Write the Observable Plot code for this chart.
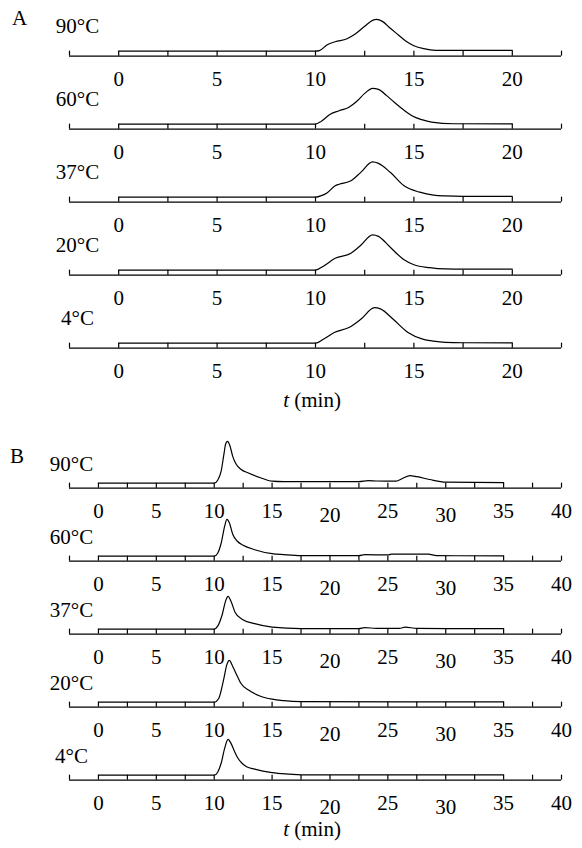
<!DOCTYPE html>
<html>
<head>
<meta charset="utf-8">
<script src="https://cdn.jsdelivr.net/npm/d3@7"></script>
<script src="https://cdn.jsdelivr.net/npm/@observablehq/plot@0.6"></script>
<style>
html,body{margin:0;padding:0;background:#fff;}
#wrap{position:relative;width:582px;height:848px;overflow:hidden;font-family:"Liberation Serif","Times New Roman",serif;color:#000;background:#fff;}
.lbl{position:absolute;font-size:21px;line-height:1;white-space:nowrap;font-family:"Liberation Serif","Times New Roman",serif;}
.xl{transform:translateX(-50%);}
#panelA,#panelB{position:absolute;left:0;}
svg text{font-family:"Liberation Serif","Times New Roman",serif !important;}
</style>
</head>
<body>
<div id="wrap">
  <div id="panelA" style="top:0px"></div>
  <div id="panelB" style="top:432px"></div>
  <div class="lbl" style="left:12px;top:8px">A</div>
  <div class="lbl" style="left:10px;top:446px">B</div>
  <div class="lbl xl" style="left:312px;top:390px"><i>t</i> (min)</div>
  <div class="lbl xl" style="left:312px;top:819px"><i>t</i> (min)</div>
</div>
<script>
// ---- categories ----
const temps = ["90°C", "60°C", "37°C", "20°C", "4°C"];

// ---- axis ticks / labels ----
const ticksA = [-2.5, 0, 2.5, 5, 7.5, 10, 12.5, 15, 17.5, 20, 22.5];
const labelsA = [0, 5, 10, 15, 20];
const ticksB = [-2.5, 0, 2.5, 5, 7.5, 10, 12.5, 15, 17.5, 20, 22.5, 25, 27.5, 30, 32.5, 35, 37.5, 40];
const labelsB = [0, 5, 10, 15, 25, 35, 40];
const labelsBLow = [20, 30];

// ---- panel A series (time, min / relative absorbance) ----
const A90_t = [0, 10, 10.2, 10.6, 11.0, 11.6, 12.0, 12.5, 12.9, 13.1, 13.4, 13.8, 14.2, 14.6, 15.0, 15.5, 16.1, 17, 20];
const A90_v = [0, 0, 0.5, 6.5, 9.5, 12.5, 17, 25, 31, 32, 30, 23, 16.5, 10, 5.5, 2.5, 0.8, 0.7, 0.7];
const A60_t = [0, 10, 10.3, 10.75, 11.2, 11.7, 12.1, 12.5, 12.9, 13.2, 13.6, 14.0, 14.5, 14.9, 15.4, 15.9, 17, 20];
const A60_v = [0, 0, 3, 10, 13.5, 17, 23, 31, 36, 35, 29, 22, 14, 8.5, 4.5, 2, 0.4, 0.3];
const A37_t = [0, 10, 10.3, 10.6, 11.0, 11.2, 11.8, 12.3, 12.9, 13.2, 13.8, 14.5, 15.3, 16.0, 16.6, 17.5, 20];
const A37_v = [0, 0, 1.5, 4.5, 11.5, 13, 16.5, 25, 35.5, 34, 25, 11.5, 5, 2, 1.2, 0.8, 0.8];
const A20_t = [0, 10, 10.4, 11.0, 11.8, 12.3, 12.9, 13.2, 13.8, 14.5, 15.0, 15.8, 16.6, 17.5, 20];
const A20_v = [0, 0, 4, 12, 17, 25, 35.5, 34, 23, 10.5, 5.5, 2.5, 1.2, 1, 1];
const A4_t  = [0, 10, 10.4, 10.95, 11.7, 12.3, 13.0, 13.3, 13.95, 14.7, 15.45, 16.0, 16.6, 17.5, 20];
const A4_v  = [0, 0, 4, 10.7, 15.7, 24, 35.7, 34.5, 24, 10.7, 4, 2, 0.8, 0.4, 0.3];

// ---- panel B series ----
const B90_t = [0, 10, 10.3, 10.6, 10.85, 11.0, 11.15, 11.35, 11.6, 11.9, 12.3, 13.0, 14.0, 15.0, 16.0, 22.5, 23.3, 24, 25.7, 26.3, 26.9, 27.5, 28.6, 30, 35];
const B90_v = [0, 0, 3, 12, 30, 40, 42, 38, 27, 19, 14, 10, 5.5, 2, 1.5, 1.5, 2.5, 2.2, 2, 5, 7.5, 6.5, 3.7, 1, 0.5];
const B60_t = [0, 10, 10.3, 10.6, 10.9, 11.1, 11.3, 11.6, 12.0, 12.5, 13.5, 15, 16, 17.5, 22.5, 23, 25, 25.3, 28.5, 29.2, 35];
const B60_v = [0, 0, 3, 13, 30, 37, 34, 22, 15, 11, 6.5, 2.5, 1.5, 0.5, 0.5, 1.5, 1.2, 2, 2, 0.5, 0.3];
const B37_t = [0, 10, 10.3, 10.7, 11.0, 11.2, 11.45, 11.8, 12.4, 13.5, 15, 17.5, 22.5, 23, 24, 26, 26.5, 27.5, 35];
const B37_v = [0, 0, 3, 15, 29, 33, 28, 17, 10, 5.5, 2, 0.5, 0.5, 1.5, 0.8, 0.8, 2, 0.8, 0.5];
const B20_t = [0, 10, 10.4, 10.8, 11.1, 11.3, 11.6, 12.0, 12.3, 13.0, 14.0, 15.0, 16.0, 17.5, 35];
const B20_v = [0, 0, 4, 22, 38, 42, 36, 26, 19, 12, 6, 3, 1.5, 0.5, 0.3];
const B4_t  = [0, 10, 10.3, 10.6, 10.9, 11.2, 11.45, 11.75, 12.0, 12.4, 12.8, 13.5, 15, 16.5, 17.5, 35];
const B4_v  = [0, 0, 3, 12, 27, 36, 32, 24, 18, 12, 8.5, 6, 2.5, 1, 0.3, 0.3];

function build(series) {
  return series.flatMap(([temp, ts, vs]) => ts.map((t, i) => ({temp, t, v: vs[i]})));
}
const dataA = build([["90°C", A90_t, A90_v], ["60°C", A60_t, A60_v], ["37°C", A37_t, A37_v], ["20°C", A20_t, A20_v], ["4°C", A4_t, A4_v]]);
const dataB = build([["90°C", B90_t, B90_v], ["60°C", B60_t, B60_v], ["37°C", B37_t, B37_v], ["20°C", B20_t, B20_v], ["4°C", B4_t, B4_v]]);

const FONT = '"Liberation Serif", "Times New Roman", serif';
const SW = 1.2;

function panel({data, domain, ticks, labels, labelsLow, tempDx, tempDy}) {
  const txt = {fill: "black", fontFamily: FONT, fontSize: 21};
  const marks = [
    Plot.ruleY([-5], {stroke: "black", strokeWidth: SW}),
    Plot.ruleX(ticks, {x: d => d, y1: -5, y2: 0, stroke: "black", strokeWidth: SW}),
    Plot.line(data, {x: "t", y: "v", fy: "temp", curve: "monotone-x", stroke: "black", strokeWidth: SW}),
    Plot.text(labels, {x: d => d, y: -5, text: d => String(d), dy: 23, lineAnchor: "middle", ...txt}),
    Plot.text(temps, {fy: d => d, text: d => d, frameAnchor: "top-left", textAnchor: "middle", lineAnchor: "middle", dx: tempDx, dy: tempDy, ...txt})
  ];
  if (labelsLow) marks.push(Plot.text(labelsLow, {x: d => d, y: -5, text: d => String(d), dy: 27, lineAnchor: "middle", ...txt}));
  return Plot.plot({
    width: 582,
    height: 5 * 73.5 + 40,
    marginTop: 0,
    marginBottom: 40,
    marginLeft: 69,
    marginRight: 21,
    x: {domain, axis: null},
    y: {domain: [-23.5, 50], axis: null},
    fy: {domain: temps, axis: null, padding: 0},
    style: {fontFamily: FONT, fontSize: "21px", background: "white", color: "black", overflow: "visible"},
    marks
  });
}

document.getElementById("panelA").appendChild(panel({data: dataA, domain: [-2.5, 22.5], ticks: ticksA, labels: labelsA, tempDx: 8, tempDy: 25}));
document.getElementById("panelB").appendChild(panel({data: dataB, domain: [-2.5, 40], ticks: ticksB, labels: labelsB, labelsLow: labelsBLow, tempDx: 2, tempDy: 31}));
</script>
</body>
</html>
